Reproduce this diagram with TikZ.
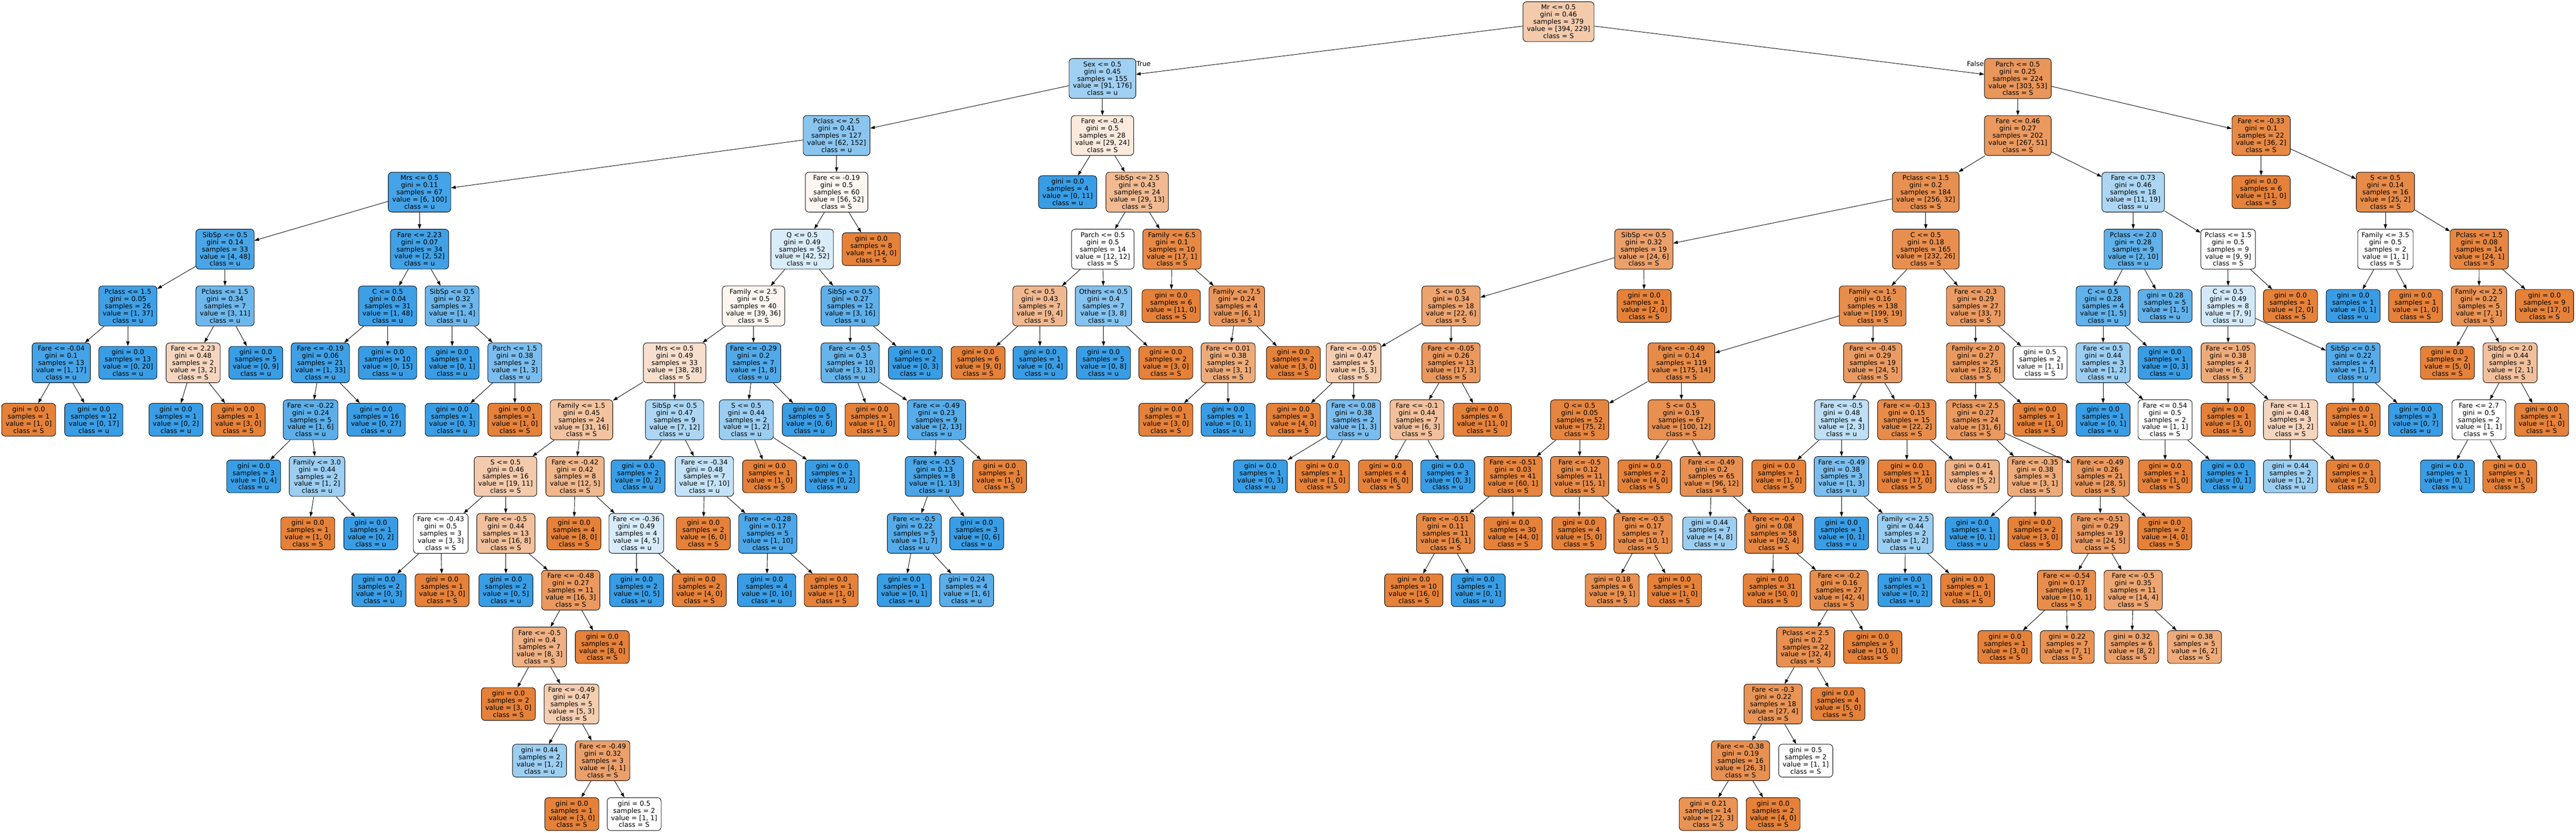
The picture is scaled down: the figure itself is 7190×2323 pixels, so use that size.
\documentclass[tikz,border=0pt]{standalone}
\usepackage{fontspec}
\setmainfont{DejaVu Sans}
\usetikzlibrary{arrows.meta}
\definecolor{cS}{RGB}{229,129,57}
\definecolor{cu}{RGB}{57,157,229}
\begin{document}
\begin{tikzpicture}[x=1pt,y=1pt]
\tikzstyle{every node}+=[font=\fontsize{18.67}{20}\selectfont]
\tikzstyle{box}=[draw, rounded corners=10pt, align=center, inner xsep=11pt, inner ysep=8.5pt, line width=1.3pt]
\tikzstyle{link}=[-{Triangle[length=13pt,width=9pt]}, line width=1.3pt]
\tikzstyle{lbl}=[inner sep=1pt]
\path[use as bounding box] (0,0) rectangle (7190,-2323);
\node[box, fill=cS!42] (L0n1) at (4350,-60.5) {Mr <= 0.5\\gini = 0.46\\samples = 379\\value = [394, 229]\\class = S};
\node[box, fill=cu!48] (L1n1) at (3077,-219) {Sex <= 0.5\\gini = 0.45\\samples = 155\\value = [91, 176]\\class = u};
\node[box, fill=cS!83] (L1n2) at (5632,-219) {Parch <= 0.5\\gini = 0.25\\samples = 224\\value = [303, 53]\\class = S};
\node[lbl, anchor=west] (tT) at ([yshift=-15pt]L1n1.north east) {True};
\node[lbl, anchor=east] (tF) at ([yshift=-15pt]L1n2.north west) {False};
\node[box, fill=cu!59] (L2n1) at (2335,-378) {Pclass <= 2.5\\gini = 0.41\\samples = 127\\value = [62, 152]\\class = u};
\node[box, fill=cS!17] (L2n2) at (3077,-378) {Fare <= -0.4\\gini = 0.5\\samples = 28\\value = [29, 24]\\class = S};
\node[box, fill=cS!81] (L2n3) at (5632,-378) {Fare <= 0.46\\gini = 0.27\\samples = 202\\value = [267, 51]\\class = S};
\node[box, fill=cS!94] (L2n4) at (6311,-378) {Fare <= -0.33\\gini = 0.1\\samples = 22\\value = [36, 2]\\class = S};
\node[box, fill=cu!94] (L3n1) at (1171,-536) {Mrs <= 0.5\\gini = 0.11\\samples = 67\\value = [6, 100]\\class = u};
\node[box, fill=cS!7] (L3n2) at (2335,-536) {Fare <= -0.19\\gini = 0.5\\samples = 60\\value = [56, 52]\\class = S};
\node[box, fill=cu] (L3n3) at (2980,-536) {gini = 0.0\\samples = 4\\value = [0, 11]\\class = u};
\node[box, fill=cS!55] (L3n4) at (3174,-536) {SibSp <= 2.5\\gini = 0.43\\samples = 24\\value = [29, 13]\\class = S};
\node[box, fill=cS!88] (L3n5) at (5375,-536) {Pclass <= 1.5\\gini = 0.2\\samples = 184\\value = [256, 32]\\class = S};
\node[box, fill=cu!42] (L3n6) at (5954,-536) {Fare <= 0.73\\gini = 0.46\\samples = 18\\value = [11, 19]\\class = u};
\node[box, fill=cS] (L3n7) at (6311,-536) {gini = 0.0\\samples = 6\\value = [11, 0]\\class = S};
\node[box, fill=cS!92] (L3n8) at (6658,-536) {S <= 0.5\\gini = 0.14\\samples = 16\\value = [25, 2]\\class = S};
\node[box, fill=cu!92] (L4n1) at (628,-695) {SibSp <= 0.5\\gini = 0.14\\samples = 33\\value = [4, 48]\\class = u};
\node[box, fill=cu!96] (L4n2) at (1171,-695) {Fare <= 2.23\\gini = 0.07\\samples = 34\\value = [2, 52]\\class = u};
\node[box, fill=cu!19] (L4n3) at (2239,-695) {Q <= 0.5\\gini = 0.49\\samples = 52\\value = [42, 52]\\class = u};
\node[box, fill=cS] (L4n4) at (2432,-695) {gini = 0.0\\samples = 8\\value = [14, 0]\\class = S};
\node[box, fill=white] (L4n5) at (3078,-695) {Parch <= 0.5\\gini = 0.5\\samples = 14\\value = [12, 12]\\class = S};
\node[box, fill=cS!94] (L4n6) at (3271,-695) {Family <= 6.5\\gini = 0.1\\samples = 10\\value = [17, 1]\\class = S};
\node[box, fill=cS!75] (L4n7) at (4588,-695) {SibSp <= 0.5\\gini = 0.32\\samples = 19\\value = [24, 6]\\class = S};
\node[box, fill=cS!89] (L4n8) at (5375,-695) {C <= 0.5\\gini = 0.18\\samples = 165\\value = [232, 26]\\class = S};
\node[box, fill=cu!80] (L4n9) at (5954,-695) {Pclass <= 2.0\\gini = 0.28\\samples = 9\\value = [2, 10]\\class = u};
\node[box, fill=white] (L4n10) at (6219,-695) {Pclass <= 1.5\\gini = 0.5\\samples = 9\\value = [9, 9]\\class = S};
\node[box, fill=white] (L4n11) at (6658,-695) {Family <= 3.5\\gini = 0.5\\samples = 2\\value = [1, 1]\\class = S};
\node[box, fill=cS!96] (L4n12) at (6920,-695) {Pclass <= 1.5\\gini = 0.08\\samples = 14\\value = [24, 1]\\class = S};
\node[box, fill=cu!97] (L5n1) at (357,-853.5) {Pclass <= 1.5\\gini = 0.05\\samples = 26\\value = [1, 37]\\class = u};
\node[box, fill=cu!73] (L5n2) at (628,-853.5) {Pclass <= 1.5\\gini = 0.34\\samples = 7\\value = [3, 11]\\class = u};
\node[box, fill=cu!98] (L5n3) at (1082,-853.5) {C <= 0.5\\gini = 0.04\\samples = 31\\value = [1, 48]\\class = u};
\node[box, fill=cu!75] (L5n4) at (1262,-853.5) {SibSp <= 0.5\\gini = 0.32\\samples = 3\\value = [1, 4]\\class = u};
\node[box, fill=cS!8] (L5n5) at (2103,-853.5) {Family <= 2.5\\gini = 0.5\\samples = 40\\value = [39, 36]\\class = S};
\node[box, fill=cu!81] (L5n6) at (2373,-853.5) {SibSp <= 0.5\\gini = 0.27\\samples = 12\\value = [3, 16]\\class = u};
\node[box, fill=cS!56] (L5n7) at (2902,-853.5) {C <= 0.5\\gini = 0.43\\samples = 7\\value = [9, 4]\\class = S};
\node[box, fill=cu!62] (L5n8) at (3080,-853.5) {Others <= 0.5\\gini = 0.4\\samples = 7\\value = [3, 8]\\class = u};
\node[box, fill=cS] (L5n9) at (3269,-853.5) {gini = 0.0\\samples = 6\\value = [11, 0]\\class = S};
\node[box, fill=cS!83] (L5n10) at (3452,-853.5) {Family <= 7.5\\gini = 0.24\\samples = 4\\value = [6, 1]\\class = S};
\node[box, fill=cS!73] (L5n11) at (4050,-853.5) {S <= 0.5\\gini = 0.34\\samples = 18\\value = [22, 6]\\class = S};
\node[box, fill=cS] (L5n12) at (4589,-853.5) {gini = 0.0\\samples = 1\\value = [2, 0]\\class = S};
\node[box, fill=cS!90] (L5n13) at (5227,-853.5) {Family <= 1.5\\gini = 0.16\\samples = 138\\value = [199, 19]\\class = S};
\node[box, fill=cS!79] (L5n14) at (5514,-853.5) {Fare <= -0.3\\gini = 0.29\\samples = 27\\value = [33, 7]\\class = S};
\node[box, fill=cu!80] (L5n15) at (5870,-853.5) {C <= 0.5\\gini = 0.28\\samples = 4\\value = [1, 5]\\class = u};
\node[box, fill=cu!80] (L5n16) at (6043,-853.5) {gini = 0.28\\samples = 5\\value = [1, 5]\\class = u};
\node[box, fill=cu!22] (L5n17) at (6219,-853.5) {C <= 0.5\\gini = 0.49\\samples = 8\\value = [7, 9]\\class = u};
\node[box, fill=cS] (L5n18) at (6393,-853.5) {gini = 0.0\\samples = 1\\value = [2, 0]\\class = S};
\node[box, fill=cu] (L5n19) at (6568,-853.5) {gini = 0.0\\samples = 1\\value = [0, 1]\\class = u};
\node[box, fill=cS] (L5n20) at (6742,-853.5) {gini = 0.0\\samples = 1\\value = [1, 0]\\class = S};
\node[box, fill=cS!86] (L5n21) at (6919,-853.5) {Family <= 2.5\\gini = 0.22\\samples = 5\\value = [7, 1]\\class = S};
\node[box, fill=cS] (L5n22) at (7102,-853.5) {gini = 0.0\\samples = 9\\value = [17, 0]\\class = S};
\node[box, fill=cu!94] (L6n1) at (171,-1012) {Fare <= -0.04\\gini = 0.1\\samples = 13\\value = [1, 17]\\class = u};
\node[box, fill=cu] (L6n2) at (357,-1012) {gini = 0.0\\samples = 13\\value = [0, 20]\\class = u};
\node[box, fill=cS!33] (L6n3) at (539,-1012) {Fare <= 2.23\\gini = 0.48\\samples = 2\\value = [3, 2]\\class = S};
\node[box, fill=cu] (L6n4) at (714,-1012) {gini = 0.0\\samples = 5\\value = [0, 9]\\class = u};
\node[box, fill=cu!97] (L6n5) at (894,-1012) {Fare <= -0.19\\gini = 0.06\\samples = 21\\value = [1, 33]\\class = u};
\node[box, fill=cu] (L6n6) at (1082,-1012) {gini = 0.0\\samples = 10\\value = [0, 15]\\class = u};
\node[box, fill=cu] (L6n7) at (1262,-1012) {gini = 0.0\\samples = 1\\value = [0, 1]\\class = u};
\node[box, fill=cu!67] (L6n8) at (1437,-1012) {Parch <= 1.5\\gini = 0.38\\samples = 2\\value = [1, 3]\\class = u};
\node[box, fill=cS!26] (L6n9) at (1883,-1012) {Mrs <= 0.5\\gini = 0.49\\samples = 33\\value = [38, 28]\\class = S};
\node[box, fill=cu!88] (L6n10) at (2103,-1012) {Fare <= -0.29\\gini = 0.2\\samples = 7\\value = [1, 8]\\class = u};
\node[box, fill=cu!77] (L6n11) at (2373,-1012) {Fare <= -0.5\\gini = 0.3\\samples = 10\\value = [3, 13]\\class = u};
\node[box, fill=cu] (L6n12) at (2555,-1012) {gini = 0.0\\samples = 2\\value = [0, 3]\\class = u};
\node[box, fill=cS] (L6n13) at (2730,-1012) {gini = 0.0\\samples = 6\\value = [9, 0]\\class = S};
\node[box, fill=cu] (L6n14) at (2903,-1012) {gini = 0.0\\samples = 1\\value = [0, 4]\\class = u};
\node[box, fill=cu] (L6n15) at (3080,-1012) {gini = 0.0\\samples = 5\\value = [0, 8]\\class = u};
\node[box, fill=cS] (L6n16) at (3254,-1012) {gini = 0.0\\samples = 2\\value = [3, 0]\\class = S};
\node[box, fill=cS!67] (L6n17) at (3428,-1012) {Fare <= 0.01\\gini = 0.38\\samples = 2\\value = [3, 1]\\class = S};
\node[box, fill=cS] (L6n18) at (3610,-1012) {gini = 0.0\\samples = 2\\value = [3, 0]\\class = S};
\node[box, fill=cS!40] (L6n19) at (3778,-1012) {Fare <= -0.05\\gini = 0.47\\samples = 5\\value = [5, 3]\\class = S};
\node[box, fill=cS!82] (L6n20) at (4050,-1012) {Fare <= -0.05\\gini = 0.26\\samples = 13\\value = [17, 3]\\class = S};
\node[box, fill=cS!92] (L6n21) at (4693,-1012) {Fare <= -0.49\\gini = 0.14\\samples = 119\\value = [175, 14]\\class = S};
\node[box, fill=cS!79] (L6n22) at (5227,-1012) {Fare <= -0.45\\gini = 0.29\\samples = 19\\value = [24, 5]\\class = S};
\node[box, fill=cS!81] (L6n23) at (5514,-1012) {Family <= 2.0\\gini = 0.27\\samples = 25\\value = [32, 6]\\class = S};
\node[box, fill=white] (L6n24) at (5694,-1012) {gini = 0.5\\samples = 2\\value = [1, 1]\\class = S};
\node[box, fill=cu!50] (L6n25) at (5870,-1012) {Fare <= 0.5\\gini = 0.44\\samples = 3\\value = [1, 2]\\class = u};
\node[box, fill=cu] (L6n26) at (6043,-1012) {gini = 0.0\\samples = 1\\value = [0, 3]\\class = u};
\node[box, fill=cS!67] (L6n27) at (6219,-1012) {Fare <= 1.05\\gini = 0.38\\samples = 4\\value = [6, 2]\\class = S};
\node[box, fill=cu!86] (L6n28) at (6568,-1012) {SibSp <= 0.5\\gini = 0.22\\samples = 4\\value = [1, 7]\\class = u};
\node[box, fill=cS] (L6n29) at (6831,-1012) {gini = 0.0\\samples = 2\\value = [5, 0]\\class = S};
\node[box, fill=cS!50] (L6n30) at (7006,-1012) {SibSp <= 2.0\\gini = 0.44\\samples = 3\\value = [2, 1]\\class = S};
\node[box, fill=cS] (L7n1) at (80,-1171) {gini = 0.0\\samples = 1\\value = [1, 0]\\class = S};
\node[box, fill=cu] (L7n2) at (262,-1171) {gini = 0.0\\samples = 12\\value = [0, 17]\\class = u};
\node[box, fill=cu] (L7n3) at (491,-1171) {gini = 0.0\\samples = 1\\value = [0, 2]\\class = u};
\node[box, fill=cS] (L7n4) at (665,-1171) {gini = 0.0\\samples = 1\\value = [3, 0]\\class = S};
\node[box, fill=cu!83] (L7n5) at (867,-1171) {Fare <= -0.22\\gini = 0.24\\samples = 5\\value = [1, 6]\\class = u};
\node[box, fill=cu] (L7n6) at (1050,-1171) {gini = 0.0\\samples = 16\\value = [0, 27]\\class = u};
\node[box, fill=cu] (L7n7) at (1262,-1171) {gini = 0.0\\samples = 1\\value = [0, 3]\\class = u};
\node[box, fill=cS] (L7n8) at (1437,-1171) {gini = 0.0\\samples = 1\\value = [1, 0]\\class = S};
\node[box, fill=cS!48] (L7n9) at (1623,-1171) {Family <= 1.5\\gini = 0.45\\samples = 24\\value = [31, 16]\\class = S};
\node[box, fill=cu!42] (L7n10) at (1883,-1171) {SibSp <= 0.5\\gini = 0.47\\samples = 9\\value = [7, 12]\\class = u};
\node[box, fill=cu!50] (L7n11) at (2083,-1171) {S <= 0.5\\gini = 0.44\\samples = 2\\value = [1, 2]\\class = u};
\node[box, fill=cu] (L7n12) at (2259,-1171) {gini = 0.0\\samples = 5\\value = [0, 6]\\class = u};
\node[box, fill=cS] (L7n13) at (2434,-1171) {gini = 0.0\\samples = 1\\value = [1, 0]\\class = S};
\node[box, fill=cu!85] (L7n14) at (2614,-1171) {Fare <= -0.49\\gini = 0.23\\samples = 9\\value = [2, 13]\\class = u};
\node[box, fill=cS] (L7n15) at (3254,-1171) {gini = 0.0\\samples = 1\\value = [3, 0]\\class = S};
\node[box, fill=cu] (L7n16) at (3428,-1171) {gini = 0.0\\samples = 1\\value = [0, 1]\\class = u};
\node[box, fill=cS] (L7n17) at (3610,-1171) {gini = 0.0\\samples = 3\\value = [4, 0]\\class = S};
\node[box, fill=cu!67] (L7n18) at (3778,-1171) {Fare <= 0.08\\gini = 0.38\\samples = 2\\value = [1, 3]\\class = u};
\node[box, fill=cS!50] (L7n19) at (3955,-1171) {Fare <= -0.1\\gini = 0.44\\samples = 7\\value = [6, 3]\\class = S};
\node[box, fill=cS] (L7n20) at (4137,-1171) {gini = 0.0\\samples = 6\\value = [11, 0]\\class = S};
\node[box, fill=cS!97] (L7n21) at (4409,-1171) {Q <= 0.5\\gini = 0.05\\samples = 52\\value = [75, 2]\\class = S};
\node[box, fill=cS!88] (L7n22) at (4693,-1171) {S <= 0.5\\gini = 0.19\\samples = 67\\value = [100, 12]\\class = S};
\node[box, fill=cu!33] (L7n23) at (5140,-1171) {Fare <= -0.5\\gini = 0.48\\samples = 4\\value = [2, 3]\\class = u};
\node[box, fill=cS!91] (L7n24) at (5322,-1171) {Fare <= -0.13\\gini = 0.15\\samples = 15\\value = [22, 2]\\class = S};
\node[box, fill=cS!81] (L7n25) at (5514,-1171) {Pclass <= 2.5\\gini = 0.27\\samples = 24\\value = [31, 6]\\class = S};
\node[box, fill=cS] (L7n26) at (5694,-1171) {gini = 0.0\\samples = 1\\value = [1, 0]\\class = S};
\node[box, fill=cu] (L7n27) at (5870,-1171) {gini = 0.0\\samples = 1\\value = [0, 1]\\class = u};
\node[box, fill=white] (L7n28) at (6043,-1171) {Fare <= 0.54\\gini = 0.5\\samples = 2\\value = [1, 1]\\class = S};
\node[box, fill=cS] (L7n29) at (6219,-1171) {gini = 0.0\\samples = 1\\value = [3, 0]\\class = S};
\node[box, fill=cS!33] (L7n30) at (6393,-1171) {Fare <= 1.1\\gini = 0.48\\samples = 3\\value = [3, 2]\\class = S};
\node[box, fill=cS] (L7n31) at (6568,-1171) {gini = 0.0\\samples = 1\\value = [1, 0]\\class = S};
\node[box, fill=cu] (L7n32) at (6742,-1171) {gini = 0.0\\samples = 3\\value = [0, 7]\\class = u};
\node[box, fill=white] (L7n33) at (6919,-1171) {Fare <= 2.7\\gini = 0.5\\samples = 2\\value = [1, 1]\\class = S};
\node[box, fill=cS] (L7n34) at (7094,-1171) {gini = 0.0\\samples = 1\\value = [1, 0]\\class = S};
\node[box, fill=cu] (L8n1) at (708,-1329) {gini = 0.0\\samples = 3\\value = [0, 4]\\class = u};
\node[box, fill=cu!50] (L8n2) at (885,-1329) {Family <= 3.0\\gini = 0.44\\samples = 2\\value = [1, 2]\\class = u};
\node[box, fill=cS!42] (L8n3) at (1411,-1329) {S <= 0.5\\gini = 0.46\\samples = 16\\value = [19, 11]\\class = S};
\node[box, fill=cS!58] (L8n4) at (1605,-1329) {Fare <= -0.42\\gini = 0.42\\samples = 8\\value = [12, 5]\\class = S};
\node[box, fill=cu] (L8n5) at (1781,-1329) {gini = 0.0\\samples = 2\\value = [0, 2]\\class = u};
\node[box, fill=cu!30] (L8n6) at (1966,-1329) {Fare <= -0.34\\gini = 0.48\\samples = 7\\value = [7, 10]\\class = u};
\node[box, fill=cS] (L8n7) at (2148,-1329) {gini = 0.0\\samples = 1\\value = [1, 0]\\class = S};
\node[box, fill=cu] (L8n8) at (2323,-1329) {gini = 0.0\\samples = 1\\value = [0, 2]\\class = u};
\node[box, fill=cu!92] (L8n9) at (2608,-1329) {Fare <= -0.5\\gini = 0.13\\samples = 8\\value = [1, 13]\\class = u};
\node[box, fill=cS] (L8n10) at (2790,-1329) {gini = 0.0\\samples = 1\\value = [1, 0]\\class = S};
\node[box, fill=cu] (L8n11) at (3518,-1329) {gini = 0.0\\samples = 1\\value = [0, 3]\\class = u};
\node[box, fill=cS] (L8n12) at (3691,-1329) {gini = 0.0\\samples = 1\\value = [1, 0]\\class = S};
\node[box, fill=cS] (L8n13) at (3867,-1329) {gini = 0.0\\samples = 4\\value = [6, 0]\\class = S};
\node[box, fill=cu] (L8n14) at (4041,-1329) {gini = 0.0\\samples = 3\\value = [0, 3]\\class = u};
\node[box, fill=cS!98] (L8n15) at (4223,-1329) {Fare <= -0.51\\gini = 0.03\\samples = 41\\value = [60, 1]\\class = S};
\node[box, fill=cS!93] (L8n16) at (4409,-1329) {Fare <= -0.5\\gini = 0.12\\samples = 11\\value = [15, 1]\\class = S};
\node[box, fill=cS] (L8n17) at (4591,-1329) {gini = 0.0\\samples = 2\\value = [4, 0]\\class = S};
\node[box, fill=cS!88] (L8n18) at (4777,-1329) {Fare <= -0.49\\gini = 0.2\\samples = 65\\value = [96, 12]\\class = S};
\node[box, fill=cS] (L8n19) at (4965,-1329) {gini = 0.0\\samples = 1\\value = [1, 0]\\class = S};
\node[box, fill=cu!67] (L8n20) at (5140,-1329) {Fare <= -0.49\\gini = 0.38\\samples = 3\\value = [1, 3]\\class = u};
\node[box, fill=cS] (L8n21) at (5322,-1329) {gini = 0.0\\samples = 11\\value = [17, 0]\\class = S};
\node[box, fill=cS!60] (L8n22) at (5505,-1329) {gini = 0.41\\samples = 4\\value = [5, 2]\\class = S};
\node[box, fill=cS!67] (L8n23) at (5680,-1329) {Fare <= -0.35\\gini = 0.38\\samples = 3\\value = [3, 1]\\class = S};
\node[box, fill=cS!82] (L8n24) at (5862,-1329) {Fare <= -0.49\\gini = 0.26\\samples = 21\\value = [28, 5]\\class = S};
\node[box, fill=cS] (L8n25) at (6043,-1329) {gini = 0.0\\samples = 1\\value = [1, 0]\\class = S};
\node[box, fill=cu] (L8n26) at (6219,-1329) {gini = 0.0\\samples = 1\\value = [0, 1]\\class = u};
\node[box, fill=cu!50] (L8n27) at (6393,-1329) {gini = 0.44\\samples = 2\\value = [1, 2]\\class = u};
\node[box, fill=cS] (L8n28) at (6568,-1329) {gini = 0.0\\samples = 1\\value = [2, 0]\\class = S};
\node[box, fill=cu] (L8n29) at (6831,-1329) {gini = 0.0\\samples = 1\\value = [0, 1]\\class = u};
\node[box, fill=cS] (L8n30) at (7005,-1329) {gini = 0.0\\samples = 1\\value = [1, 0]\\class = S};
\node[box, fill=cS] (L9n1) at (859,-1488) {gini = 0.0\\samples = 1\\value = [1, 0]\\class = S};
\node[box, fill=cu] (L9n2) at (1035,-1488) {gini = 0.0\\samples = 1\\value = [0, 2]\\class = u};
\node[box, fill=white] (L9n3) at (1230,-1488) {Fare <= -0.43\\gini = 0.5\\samples = 3\\value = [3, 3]\\class = S};
\node[box, fill=cS!50] (L9n4) at (1412,-1488) {Fare <= -0.5\\gini = 0.44\\samples = 13\\value = [16, 8]\\class = S};
\node[box, fill=cS] (L9n5) at (1602,-1488) {gini = 0.0\\samples = 4\\value = [8, 0]\\class = S};
\node[box, fill=cu!20] (L9n6) at (1776,-1488) {Fare <= -0.36\\gini = 0.49\\samples = 4\\value = [4, 5]\\class = u};
\node[box, fill=cS] (L9n7) at (1963,-1488) {gini = 0.0\\samples = 2\\value = [6, 0]\\class = S};
\node[box, fill=cu!90] (L9n8) at (2143,-1488) {Fare <= -0.28\\gini = 0.17\\samples = 5\\value = [1, 10]\\class = u};
\node[box, fill=cu!86] (L9n9) at (2552,-1488) {Fare <= -0.5\\gini = 0.22\\samples = 5\\value = [1, 7]\\class = u};
\node[box, fill=cu] (L9n10) at (2726,-1488) {gini = 0.0\\samples = 3\\value = [0, 6]\\class = u};
\node[box, fill=cS!94] (L9n11) at (4035,-1488) {Fare <= -0.51\\gini = 0.11\\samples = 11\\value = [16, 1]\\class = S};
\node[box, fill=cS] (L9n12) at (4223,-1488) {gini = 0.0\\samples = 30\\value = [44, 0]\\class = S};
\node[box, fill=cS] (L9n13) at (4407,-1488) {gini = 0.0\\samples = 4\\value = [5, 0]\\class = S};
\node[box, fill=cS!90] (L9n14) at (4586,-1488) {Fare <= -0.5\\gini = 0.17\\samples = 7\\value = [10, 1]\\class = S};
\node[box, fill=cu!50] (L9n15) at (4772,-1488) {gini = 0.44\\samples = 7\\value = [4, 8]\\class = u};
\node[box, fill=cS!96] (L9n16) at (4951,-1488) {Fare <= -0.4\\gini = 0.08\\samples = 58\\value = [92, 4]\\class = S};
\node[box, fill=cu] (L9n17) at (5140,-1488) {gini = 0.0\\samples = 1\\value = [0, 1]\\class = u};
\node[box, fill=cu!50] (L9n18) at (5318,-1488) {Family <= 2.5\\gini = 0.44\\samples = 2\\value = [1, 2]\\class = u};
\node[box, fill=cu] (L9n19) at (5505,-1488) {gini = 0.0\\samples = 1\\value = [0, 1]\\class = u};
\node[box, fill=cS] (L9n20) at (5680,-1488) {gini = 0.0\\samples = 2\\value = [3, 0]\\class = S};
\node[box, fill=cS!79] (L9n21) at (5862,-1488) {Fare <= -0.51\\gini = 0.29\\samples = 19\\value = [24, 5]\\class = S};
\node[box, fill=cS] (L9n22) at (6042,-1488) {gini = 0.0\\samples = 2\\value = [4, 0]\\class = S};
\node[box, fill=cu] (L10n1) at (1058,-1646.5) {gini = 0.0\\samples = 2\\value = [0, 3]\\class = u};
\node[box, fill=cS] (L10n2) at (1234,-1646.5) {gini = 0.0\\samples = 1\\value = [3, 0]\\class = S};
\node[box, fill=cu] (L10n3) at (1412,-1646.5) {gini = 0.0\\samples = 2\\value = [0, 5]\\class = u};
\node[box, fill=cS!81] (L10n4) at (1593,-1646.5) {Fare <= -0.48\\gini = 0.27\\samples = 11\\value = [16, 3]\\class = S};
\node[box, fill=cu] (L10n5) at (1777,-1646.5) {gini = 0.0\\samples = 2\\value = [0, 5]\\class = u};
\node[box, fill=cS] (L10n6) at (1952,-1646.5) {gini = 0.0\\samples = 2\\value = [4, 0]\\class = S};
\node[box, fill=cu] (L10n7) at (2140,-1646.5) {gini = 0.0\\samples = 4\\value = [0, 10]\\class = u};
\node[box, fill=cS] (L10n8) at (2320,-1646.5) {gini = 0.0\\samples = 1\\value = [1, 0]\\class = S};
\node[box, fill=cu] (L10n9) at (2524,-1646.5) {gini = 0.0\\samples = 1\\value = [0, 1]\\class = u};
\node[box, fill=cu!83] (L10n10) at (2698,-1646.5) {gini = 0.24\\samples = 4\\value = [1, 6]\\class = u};
\node[box, fill=cS] (L10n11) at (3946,-1646.5) {gini = 0.0\\samples = 10\\value = [16, 0]\\class = S};
\node[box, fill=cu] (L10n12) at (4126,-1646.5) {gini = 0.0\\samples = 1\\value = [0, 1]\\class = u};
\node[box, fill=cS!89] (L10n13) at (4500,-1646.5) {gini = 0.18\\samples = 6\\value = [9, 1]\\class = S};
\node[box, fill=cS] (L10n14) at (4674,-1646.5) {gini = 0.0\\samples = 1\\value = [1, 0]\\class = S};
\node[box, fill=cS] (L10n15) at (4947,-1646.5) {gini = 0.0\\samples = 31\\value = [50, 0]\\class = S};
\node[box, fill=cS!90] (L10n16) at (5133,-1646.5) {Fare <= -0.2\\gini = 0.16\\samples = 27\\value = [42, 4]\\class = S};
\node[box, fill=cu] (L10n17) at (5317,-1646.5) {gini = 0.0\\samples = 1\\value = [0, 2]\\class = u};
\node[box, fill=cS] (L10n18) at (5492,-1646.5) {gini = 0.0\\samples = 1\\value = [1, 0]\\class = S};
\node[box, fill=cS!90] (L10n19) at (5768,-1646.5) {Fare <= -0.54\\gini = 0.17\\samples = 8\\value = [10, 1]\\class = S};
\node[box, fill=cS!71] (L10n20) at (5954,-1646.5) {Fare <= -0.5\\gini = 0.35\\samples = 11\\value = [14, 4]\\class = S};
\node[box, fill=cS!62] (L11n1) at (1506,-1805) {Fare <= -0.5\\gini = 0.4\\samples = 7\\value = [8, 3]\\class = S};
\node[box, fill=cS] (L11n2) at (1681,-1805) {gini = 0.0\\samples = 4\\value = [8, 0]\\class = S};
\node[box, fill=cS!88] (L11n3) at (5040,-1805) {Pclass <= 2.5\\gini = 0.2\\samples = 22\\value = [32, 4]\\class = S};
\node[box, fill=cS] (L11n4) at (5227,-1805) {gini = 0.0\\samples = 5\\value = [10, 0]\\class = S};
\node[box, fill=cS] (L11n5) at (5596,-1805) {gini = 0.0\\samples = 1\\value = [3, 0]\\class = S};
\node[box, fill=cS!86] (L11n6) at (5770,-1805) {gini = 0.22\\samples = 7\\value = [7, 1]\\class = S};
\node[box, fill=cS!75] (L11n7) at (5950,-1805) {gini = 0.32\\samples = 6\\value = [8, 2]\\class = S};
\node[box, fill=cS!67] (L11n8) at (6125,-1805) {gini = 0.38\\samples = 5\\value = [6, 2]\\class = S};
\node[box, fill=cS] (L12n1) at (1419,-1964) {gini = 0.0\\samples = 2\\value = [3, 0]\\class = S};
\node[box, fill=cS!40] (L12n2) at (1595,-1964) {Fare <= -0.49\\gini = 0.47\\samples = 5\\value = [5, 3]\\class = S};
\node[box, fill=cS!85] (L12n3) at (4949,-1964) {Fare <= -0.3\\gini = 0.22\\samples = 18\\value = [27, 4]\\class = S};
\node[box, fill=cS] (L12n4) at (5130,-1964) {gini = 0.0\\samples = 4\\value = [5, 0]\\class = S};
\node[box, fill=cu!50] (L13n1) at (1506,-2122) {gini = 0.44\\samples = 2\\value = [1, 2]\\class = u};
\node[box, fill=cS!75] (L13n2) at (1682,-2122) {Fare <= -0.49\\gini = 0.32\\samples = 3\\value = [4, 1]\\class = S};
\node[box, fill=cS!88] (L13n3) at (4858,-2122) {Fare <= -0.38\\gini = 0.19\\samples = 16\\value = [26, 3]\\class = S};
\node[box, fill=white] (L13n4) at (5040,-2122) {gini = 0.5\\samples = 2\\value = [1, 1]\\class = S};
\node[box, fill=cS] (L14n1) at (1596,-2271) {gini = 0.0\\samples = 1\\value = [3, 0]\\class = S};
\node[box, fill=white] (L14n2) at (1770,-2271) {gini = 0.5\\samples = 2\\value = [1, 1]\\class = S};
\node[box, fill=cS!86] (L14n3) at (4768,-2271) {gini = 0.21\\samples = 14\\value = [22, 3]\\class = S};
\node[box, fill=cS] (L14n4) at (4949,-2271) {gini = 0.0\\samples = 2\\value = [4, 0]\\class = S};
\draw[link] (L0n1) -- (L1n1); \draw[link] (L0n1) -- (L1n2);
\draw[link] (L1n1) -- (L2n1); \draw[link] (L1n1) -- (L2n2);
\draw[link] (L1n2) -- (L2n3); \draw[link] (L1n2) -- (L2n4);
\draw[link] (L2n1) -- (L3n1); \draw[link] (L2n1) -- (L3n2);
\draw[link] (L2n2) -- (L3n3); \draw[link] (L2n2) -- (L3n4);
\draw[link] (L2n3) -- (L3n5); \draw[link] (L2n3) -- (L3n6);
\draw[link] (L2n4) -- (L3n7); \draw[link] (L2n4) -- (L3n8);
\draw[link] (L3n1) -- (L4n1); \draw[link] (L3n1) -- (L4n2);
\draw[link] (L3n2) -- (L4n3); \draw[link] (L3n2) -- (L4n4);
\draw[link] (L3n4) -- (L4n5); \draw[link] (L3n4) -- (L4n6);
\draw[link] (L3n5) -- (L4n7); \draw[link] (L3n5) -- (L4n8);
\draw[link] (L3n6) -- (L4n9); \draw[link] (L3n6) -- (L4n10);
\draw[link] (L3n8) -- (L4n11); \draw[link] (L3n8) -- (L4n12);
\draw[link] (L4n1) -- (L5n1); \draw[link] (L4n1) -- (L5n2);
\draw[link] (L4n2) -- (L5n3); \draw[link] (L4n2) -- (L5n4);
\draw[link] (L4n3) -- (L5n5); \draw[link] (L4n3) -- (L5n6);
\draw[link] (L4n5) -- (L5n7); \draw[link] (L4n5) -- (L5n8);
\draw[link] (L4n6) -- (L5n9); \draw[link] (L4n6) -- (L5n10);
\draw[link] (L4n7) -- (L5n11); \draw[link] (L4n7) -- (L5n12);
\draw[link] (L4n8) -- (L5n13); \draw[link] (L4n8) -- (L5n14);
\draw[link] (L4n9) -- (L5n15); \draw[link] (L4n9) -- (L5n16);
\draw[link] (L4n10) -- (L5n17); \draw[link] (L4n10) -- (L5n18);
\draw[link] (L4n11) -- (L5n19); \draw[link] (L4n11) -- (L5n20);
\draw[link] (L4n12) -- (L5n21); \draw[link] (L4n12) -- (L5n22);
\draw[link] (L5n1) -- (L6n1); \draw[link] (L5n1) -- (L6n2);
\draw[link] (L5n2) -- (L6n3); \draw[link] (L5n2) -- (L6n4);
\draw[link] (L5n3) -- (L6n5); \draw[link] (L5n3) -- (L6n6);
\draw[link] (L5n4) -- (L6n7); \draw[link] (L5n4) -- (L6n8);
\draw[link] (L5n5) -- (L6n9); \draw[link] (L5n5) -- (L6n10);
\draw[link] (L5n6) -- (L6n11); \draw[link] (L5n6) -- (L6n12);
\draw[link] (L5n7) -- (L6n13); \draw[link] (L5n7) -- (L6n14);
\draw[link] (L5n8) -- (L6n15); \draw[link] (L5n8) -- (L6n16);
\draw[link] (L5n10) -- (L6n17); \draw[link] (L5n10) -- (L6n18);
\draw[link] (L5n11) -- (L6n19); \draw[link] (L5n11) -- (L6n20);
\draw[link] (L5n13) -- (L6n21); \draw[link] (L5n13) -- (L6n22);
\draw[link] (L5n14) -- (L6n23); \draw[link] (L5n14) -- (L6n24);
\draw[link] (L5n15) -- (L6n25); \draw[link] (L5n15) -- (L6n26);
\draw[link] (L5n17) -- (L6n27); \draw[link] (L5n17) -- (L6n28);
\draw[link] (L5n21) -- (L6n29); \draw[link] (L5n21) -- (L6n30);
\draw[link] (L6n1) -- (L7n1); \draw[link] (L6n1) -- (L7n2);
\draw[link] (L6n3) -- (L7n3); \draw[link] (L6n3) -- (L7n4);
\draw[link] (L6n5) -- (L7n5); \draw[link] (L6n5) -- (L7n6);
\draw[link] (L6n8) -- (L7n7); \draw[link] (L6n8) -- (L7n8);
\draw[link] (L6n9) -- (L7n9); \draw[link] (L6n9) -- (L7n10);
\draw[link] (L6n10) -- (L7n11); \draw[link] (L6n10) -- (L7n12);
\draw[link] (L6n11) -- (L7n13); \draw[link] (L6n11) -- (L7n14);
\draw[link] (L6n17) -- (L7n15); \draw[link] (L6n17) -- (L7n16);
\draw[link] (L6n19) -- (L7n17); \draw[link] (L6n19) -- (L7n18);
\draw[link] (L6n20) -- (L7n19); \draw[link] (L6n20) -- (L7n20);
\draw[link] (L6n21) -- (L7n21); \draw[link] (L6n21) -- (L7n22);
\draw[link] (L6n22) -- (L7n23); \draw[link] (L6n22) -- (L7n24);
\draw[link] (L6n23) -- (L7n25); \draw[link] (L6n23) -- (L7n26);
\draw[link] (L6n25) -- (L7n27); \draw[link] (L6n25) -- (L7n28);
\draw[link] (L6n27) -- (L7n29); \draw[link] (L6n27) -- (L7n30);
\draw[link] (L6n28) -- (L7n31); \draw[link] (L6n28) -- (L7n32);
\draw[link] (L6n30) -- (L7n33); \draw[link] (L6n30) -- (L7n34);
\draw[link] (L7n5) -- (L8n1); \draw[link] (L7n5) -- (L8n2);
\draw[link] (L7n9) -- (L8n3); \draw[link] (L7n9) -- (L8n4);
\draw[link] (L7n10) -- (L8n5); \draw[link] (L7n10) -- (L8n6);
\draw[link] (L7n11) -- (L8n7); \draw[link] (L7n11) -- (L8n8);
\draw[link] (L7n14) -- (L8n9); \draw[link] (L7n14) -- (L8n10);
\draw[link] (L7n18) -- (L8n11); \draw[link] (L7n18) -- (L8n12);
\draw[link] (L7n19) -- (L8n13); \draw[link] (L7n19) -- (L8n14);
\draw[link] (L7n21) -- (L8n15); \draw[link] (L7n21) -- (L8n16);
\draw[link] (L7n22) -- (L8n17); \draw[link] (L7n22) -- (L8n18);
\draw[link] (L7n23) -- (L8n19); \draw[link] (L7n23) -- (L8n20);
\draw[link] (L7n24) -- (L8n21); \draw[link] (L7n24) -- (L8n22);
\draw[link] (L7n25) -- (L8n23); \draw[link] (L7n25) -- (L8n24);
\draw[link] (L7n28) -- (L8n25); \draw[link] (L7n28) -- (L8n26);
\draw[link] (L7n30) -- (L8n27); \draw[link] (L7n30) -- (L8n28);
\draw[link] (L7n33) -- (L8n29); \draw[link] (L7n33) -- (L8n30);
\draw[link] (L8n2) -- (L9n1); \draw[link] (L8n2) -- (L9n2);
\draw[link] (L8n3) -- (L9n3); \draw[link] (L8n3) -- (L9n4);
\draw[link] (L8n4) -- (L9n5); \draw[link] (L8n4) -- (L9n6);
\draw[link] (L8n6) -- (L9n7); \draw[link] (L8n6) -- (L9n8);
\draw[link] (L8n9) -- (L9n9); \draw[link] (L8n9) -- (L9n10);
\draw[link] (L8n15) -- (L9n11); \draw[link] (L8n15) -- (L9n12);
\draw[link] (L8n16) -- (L9n13); \draw[link] (L8n16) -- (L9n14);
\draw[link] (L8n18) -- (L9n15); \draw[link] (L8n18) -- (L9n16);
\draw[link] (L8n20) -- (L9n17); \draw[link] (L8n20) -- (L9n18);
\draw[link] (L8n23) -- (L9n19); \draw[link] (L8n23) -- (L9n20);
\draw[link] (L8n24) -- (L9n21); \draw[link] (L8n24) -- (L9n22);
\draw[link] (L9n3) -- (L10n1); \draw[link] (L9n3) -- (L10n2);
\draw[link] (L9n4) -- (L10n3); \draw[link] (L9n4) -- (L10n4);
\draw[link] (L9n6) -- (L10n5); \draw[link] (L9n6) -- (L10n6);
\draw[link] (L9n8) -- (L10n7); \draw[link] (L9n8) -- (L10n8);
\draw[link] (L9n9) -- (L10n9); \draw[link] (L9n9) -- (L10n10);
\draw[link] (L9n11) -- (L10n11); \draw[link] (L9n11) -- (L10n12);
\draw[link] (L9n14) -- (L10n13); \draw[link] (L9n14) -- (L10n14);
\draw[link] (L9n16) -- (L10n15); \draw[link] (L9n16) -- (L10n16);
\draw[link] (L9n18) -- (L10n17); \draw[link] (L9n18) -- (L10n18);
\draw[link] (L9n21) -- (L10n19); \draw[link] (L9n21) -- (L10n20);
\draw[link] (L10n4) -- (L11n1); \draw[link] (L10n4) -- (L11n2);
\draw[link] (L10n16) -- (L11n3); \draw[link] (L10n16) -- (L11n4);
\draw[link] (L10n19) -- (L11n5); \draw[link] (L10n19) -- (L11n6);
\draw[link] (L10n20) -- (L11n7); \draw[link] (L10n20) -- (L11n8);
\draw[link] (L11n1) -- (L12n1); \draw[link] (L11n1) -- (L12n2);
\draw[link] (L11n3) -- (L12n3); \draw[link] (L11n3) -- (L12n4);
\draw[link] (L12n2) -- (L13n1); \draw[link] (L12n2) -- (L13n2);
\draw[link] (L12n3) -- (L13n3); \draw[link] (L12n3) -- (L13n4);
\draw[link] (L13n2) -- (L14n1); \draw[link] (L13n2) -- (L14n2);
\draw[link] (L13n3) -- (L14n3); \draw[link] (L13n3) -- (L14n4);
\end{tikzpicture}
\end{document}
